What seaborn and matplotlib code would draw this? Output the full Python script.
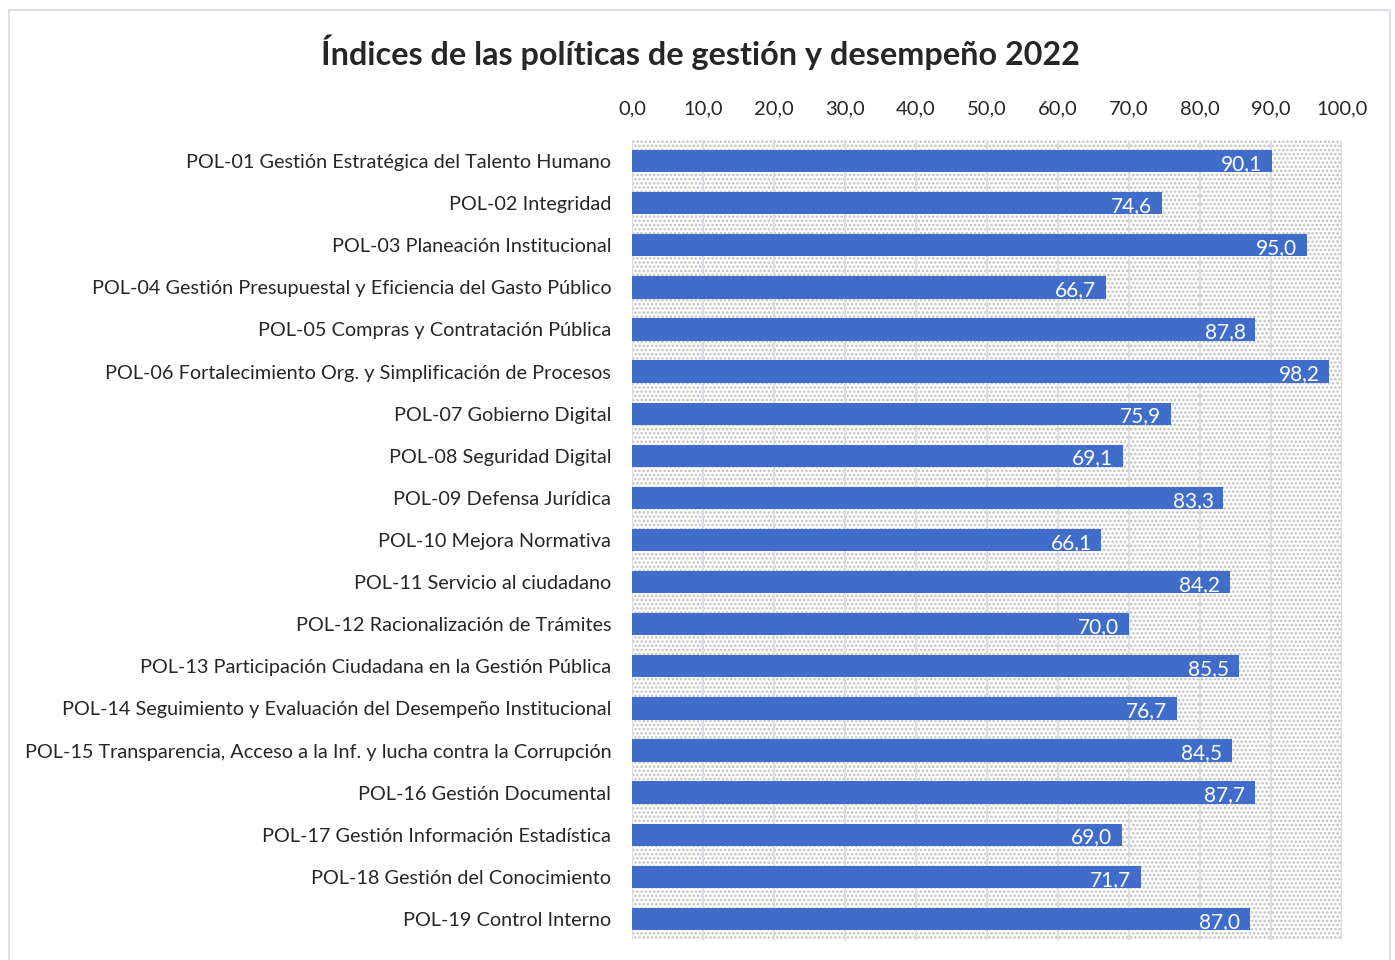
import matplotlib
matplotlib.use("Agg")
import matplotlib.pyplot as plt
import seaborn as sns
import pandas as pd
from matplotlib.patches import Rectangle

categories = [
    "POL-01 Gestión Estratégica del Talento Humano",
    "POL-02 Integridad",
    "POL-03 Planeación Institucional",
    "POL-04 Gestión Presupuestal y Eficiencia del Gasto Público",
    "POL-05 Compras y Contratación Pública",
    "POL-06 Fortalecimiento Org. y Simplificación de Procesos",
    "POL-07 Gobierno Digital",
    "POL-08 Seguridad Digital",
    "POL-09 Defensa Jurídica",
    "POL-10 Mejora Normativa",
    "POL-11 Servicio al ciudadano",
    "POL-12 Racionalización de Trámites",
    "POL-13 Participación Ciudadana en la Gestión Pública",
    "POL-14 Seguimiento y Evaluación del Desempeño Institucional",
    "POL-15 Transparencia, Acceso a la Inf. y lucha contra la Corrupción",
    "POL-16 Gestión Documental",
    "POL-17 Gestión Información Estadística",
    "POL-18 Gestión del Conocimiento",
    "POL-19 Control Interno",
]
values = [90.1, 74.6, 95.0, 66.7, 87.8, 98.2, 75.9, 69.1, 83.3, 66.1,
          84.2, 70.0, 85.5, 76.7, 84.5, 87.7, 69.0, 71.7, 87.0]
xticks = [0, 10, 20, 30, 40, 50, 60, 70, 80, 90, 100]
title = "Índices de las políticas de gestión y desempeño 2022"

df = pd.DataFrame({"cat": categories, "val": values})

sns.set_theme(style="white")
plt.rcParams["font.family"] = ["Lato", "DejaVu Sans"]
plt.rcParams["hatch.linewidth"] = 1.2

fig = plt.figure(figsize=(13.95, 9.6), dpi=100)
ax = fig.add_axes([632/1395, 1-940/960, (1342-632)/1395, 800/960])

# dotted background
bg = Rectangle((0, 0), 1, 1, transform=ax.transAxes, facecolor="white",
               edgecolor="#BFBFBF", hatch="....", lw=0, zorder=0)
ax.add_patch(bg)

sns.barplot(data=df, x="val", y="cat", orient="h", color="#3F6DC9",
            saturation=1, width=0.53, ax=ax, zorder=3)

for b in ax.containers[0]:
    b.set_edgecolor("none")

ax.set_xlim(0, 100)
ax.set_ylim(len(categories) - 0.5, -0.5)
ax.set_xticks(xticks)
ax.set_xticklabels([f"{t:.1f}".replace(".", ",") for t in xticks], fontsize=14.5)
ax.xaxis.tick_top()
ax.tick_params(axis="x", length=0, pad=16.5)
ax.tick_params(axis="y", length=0, pad=15, labelsize=14.3)
ax.set_xlabel("")
ax.set_ylabel("")
for t in xticks:
    ax.axvline(t, color="#D9DEE6", lw=1.5, zorder=1)
for s in ax.spines.values():
    s.set_visible(False)

for i, v in enumerate(values):
    ax.annotate(f"{v:.1f}".replace(".", ","), xy=(v, i), xytext=(-7, -2),
                textcoords="offset points", ha="right", va="center",
                color="white", fontsize=15, zorder=5)

fig.text(700/1395, 1-52/960, title, ha="center", va="center",
         fontsize=23.3, fontweight="bold")

# outer border
fig.patches.append(Rectangle((9/1395, -0.01), (1390-9)/1395, 1-10/960 + 0.01,
                             transform=fig.transFigure, fill=False,
                             edgecolor="#DCE0E6", lw=1.5))

fig.savefig("out.png", dpi=100)
